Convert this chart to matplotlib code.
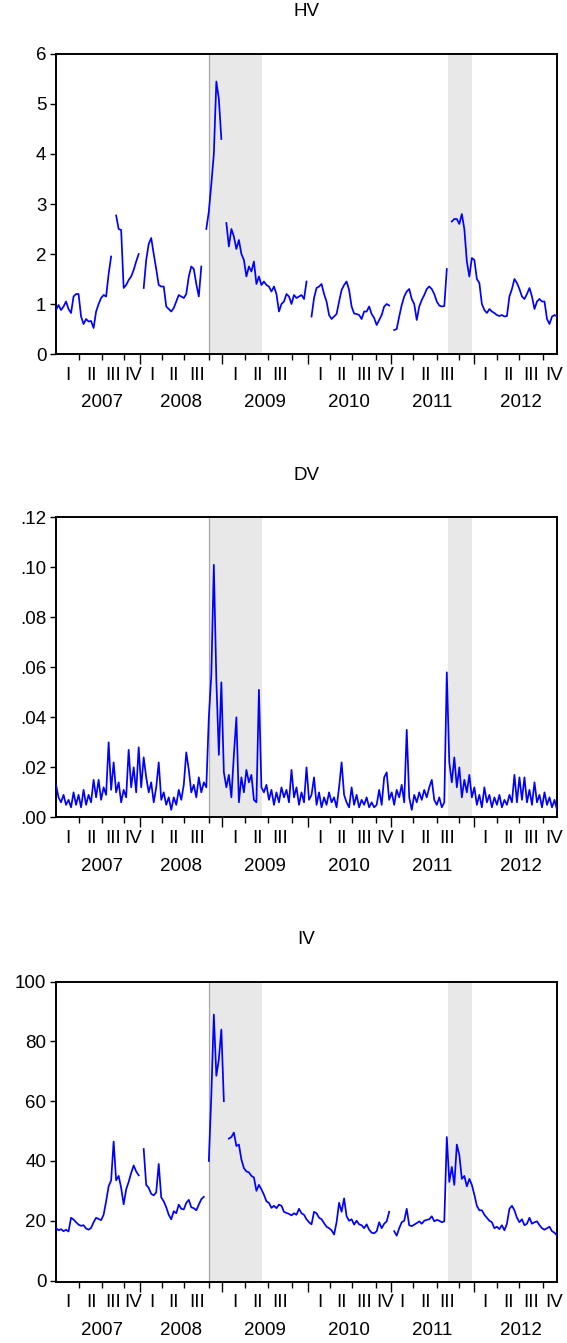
import numpy as np
import matplotlib
matplotlib.use("Agg")
import matplotlib.pyplot as plt

plt.rcParams['font.family'] = ['Liberation Sans', 'DejaVu Sans']

# observation axis: 201 samples, 2007 - 2012 (trading days, irregular workfile)
nan = np.nan

hv = [0.88, 0.98, 0.88, 0.95, 1.05, 0.90, 0.82, 1.15, 1.20, 1.20,
      0.75, 0.60, 0.70, 0.65, 0.66, 0.52, 0.85, 1.00, 1.12, 1.18,
      1.15, 1.60, 1.95, nan, 2.77, 2.50, 2.48, 1.32, 1.38, 1.48,
      1.55, 1.68, 1.85, 2.00, nan, 1.32, 1.88, 2.20, 2.32, 2.00,
      1.70, 1.38, 1.35, 1.35, 0.95, 0.90, 0.85, 0.92, 1.05, 1.18,
      1.15, 1.12, 1.20, 1.55, 1.75, 1.70, 1.40, 1.15, 1.75, nan,
      2.50, 2.85, 3.40, 4.00, 5.45, 5.10, 4.30, nan, 2.62, 2.15,
      2.50, 2.35, 2.10, 2.28, 2.00, 1.88, 1.55, 1.75, 1.65, 1.85,
      1.40, 1.55, 1.38, 1.45, 1.38, 1.35, 1.25, 1.35, 1.20, 0.85,
      1.00, 1.05, 1.20, 1.15, 1.00, 1.18, 1.12, 1.15, 1.18, 1.10,
      1.45, nan, 0.75, 1.12, 1.32, 1.35, 1.40, 1.20, 1.05, 0.78,
      0.70, 0.75, 0.80, 1.05, 1.28, 1.38, 1.45, 1.28, 0.95, 0.81,
      0.80, 0.78, 0.70, 0.85, 0.85, 0.95, 0.80, 0.72, 0.58, 0.68,
      0.78, 0.95, 1.00, 0.97, nan, 0.48, 0.50, 0.75, 0.98, 1.15,
      1.25, 1.30, 1.10, 1.00, 0.68, 0.95, 1.08, 1.18, 1.30, 1.35,
      1.30, 1.20, 1.05, 0.97, 0.95, 0.96, 1.70, nan, 2.65, 2.70,
      2.70, 2.60, 2.80, 2.50, 1.85, 1.55, 1.92, 1.88, 1.50, 1.42,
      1.00, 0.88, 0.82, 0.90, 0.85, 0.82, 0.78, 0.76, 0.78, 0.75,
      0.76, 1.15, 1.30, 1.50, 1.42, 1.30, 1.15, 1.10, 1.20, 1.32,
      1.15, 0.90, 1.05, 1.10, 1.05, 1.05, 0.70, 0.60, 0.75, 0.78,
      0.75]

dv = [0.013, 0.008, 0.006, 0.009, 0.005, 0.007, 0.004, 0.010, 0.005, 0.009,
      0.004, 0.011, 0.005, 0.009, 0.006, 0.015, 0.008, 0.015, 0.007, 0.012,
      0.009, 0.030, 0.011, 0.022, 0.010, 0.014, 0.006, 0.011, 0.008, 0.027,
      0.012, 0.020, 0.010, 0.028, 0.012, 0.024, 0.016, 0.010, 0.014, 0.006,
      0.012, 0.022, 0.007, 0.010, 0.005, 0.008, 0.003, 0.008, 0.005, 0.011,
      0.007, 0.013, 0.026, 0.019, 0.010, 0.013, 0.008, 0.016, 0.010, 0.014,
      0.012, 0.040, 0.057, 0.101, 0.055, 0.025, 0.054, 0.018, 0.012, 0.017,
      0.008, 0.025, 0.040, 0.006, 0.016, 0.010, 0.019, 0.014, 0.017, 0.007,
      0.006, 0.051, 0.012, 0.010, 0.013, 0.007, 0.011, 0.005, 0.010, 0.006,
      0.012, 0.008, 0.011, 0.006, 0.019, 0.008, 0.012, 0.005, 0.010, 0.006,
      0.020, 0.007, 0.009, 0.016, 0.005, 0.010, 0.004, 0.008, 0.005, 0.010,
      0.006, 0.008, 0.004, 0.012, 0.022, 0.009, 0.006, 0.004, 0.012, 0.005,
      0.009, 0.004, 0.007, 0.005, 0.008, 0.004, 0.006, 0.004, 0.005, 0.011,
      0.005, 0.016, 0.018, 0.007, 0.010, 0.005, 0.011, 0.008, 0.013, 0.006,
      0.035, 0.008, 0.003, 0.009, 0.006, 0.010, 0.007, 0.011, 0.008, 0.012,
      0.015, 0.007, 0.005, 0.008, 0.004, 0.006, 0.058, 0.022, 0.014, 0.024,
      0.012, 0.020, 0.008, 0.015, 0.010, 0.017, 0.008, 0.012, 0.005, 0.009,
      0.004, 0.012, 0.006, 0.009, 0.004, 0.008, 0.005, 0.009, 0.004, 0.007,
      0.005, 0.009, 0.006, 0.017, 0.006, 0.016, 0.007, 0.016, 0.006, 0.011,
      0.005, 0.014, 0.006, 0.009, 0.004, 0.010, 0.005, 0.008, 0.004, 0.007,
      0.003]

iv = [17.6, 16.8, 17.2, 16.5, 17.0, 16.4, 21.0, 20.4, 19.5, 18.7,
      18.3, 18.5, 17.4, 17.0, 17.6, 19.5, 21.0, 20.6, 20.2, 22.0,
      26.5, 31.5, 33.5, 46.5, 33.5, 35.0, 31.0, 25.5, 30.5, 33.0,
      36.0, 38.5, 36.5, 35.2, nan, 44.0, 32.0, 31.0, 29.0, 28.5,
      29.5, 39.0, 27.8, 26.5, 24.5, 22.0, 20.5, 23.2, 22.5, 25.4,
      24.0, 23.8, 26.0, 27.0, 24.5, 24.2, 23.5, 25.4, 27.2, 28.0,
      nan, 40.0, 62.0, 89.0, 68.5, 74.0, 84.0, 60.0, nan, 47.5,
      48.0, 49.5, 45.0, 45.5, 40.5, 37.6, 36.5, 36.2, 35.0, 34.5,
      30.0, 32.0, 30.5, 28.7, 26.5, 26.0, 24.3, 25.0, 24.2, 25.4,
      25.0, 23.0, 22.6, 22.3, 21.8, 22.5, 22.0, 24.0, 22.5, 22.0,
      20.5, 19.5, 18.8, 23.0, 22.5, 21.0, 20.5, 19.2, 18.0, 17.5,
      16.8, 15.4, 19.5, 26.0, 23.0, 27.5, 21.5, 20.0, 20.5, 18.7,
      20.0, 18.8, 18.5, 17.5, 18.8, 17.0, 16.0, 15.8, 16.5, 19.5,
      17.5, 19.0, 19.8, 23.0, nan, 16.5, 15.0, 17.5, 19.5, 20.0,
      24.0, 18.5, 18.2, 18.7, 19.2, 19.8, 19.0, 20.0, 20.3, 20.5,
      21.5, 19.8, 20.3, 20.0, 19.5, 19.8, 48.0, 33.0, 38.0, 32.0,
      45.5, 42.0, 34.0, 35.0, 31.5, 34.0, 32.0, 28.7, 25.0, 23.5,
      23.5, 22.0, 21.0, 20.0, 19.5, 17.5, 18.0, 17.2, 18.5, 16.8,
      19.0, 24.0, 25.0, 23.5, 21.0, 19.5, 20.5, 18.5, 19.0, 21.0,
      19.0, 19.5, 19.8, 18.5, 17.5, 17.0, 17.5, 18.0, 16.5, 16.0,
      15.0]

# x axis (in observations)
quarter_bounds = [9.2, 18.3, 27.1, 42.3, 51.1, 60.9, 75.3, 84.7, 94.3,
                  109.3, 118.3, 127.9, 142.5, 151.9, 160.9, 176.0, 184.9, 194.5]
year_bounds = [33.5, 66.3, 100.7, 133.6, 166.9]
quarter_pos = [4.9, 14.0, 22.7, 30.6, 38.2, 46.9, 56.2, 71.4, 80.4, 89.5,
               105.3, 113.9, 123.0, 131.4, 138.2, 147.6, 156.2, 171.1,
               180.6, 189.8, 198.8]
quarter_lbl = ['I', 'II', 'III', 'IV', 'I', 'II', 'III', 'I', 'II', 'III',
               'I', 'II', 'III', 'IV', 'I', 'II', 'III', 'I', 'II', 'III', 'IV']
year_pos = [18.3, 49.8, 83.3, 117.0, 150.2, 185.4]
year_lbl = ['2007', '2008', '2009', '2010', '2011', '2012']

# shaded periods
shade_start = [60.9, 156.3]
shade_end = [82.3, 166.2]

panels = [
    ('HV', hv, (0, 6), [0, 1, 2, 3, 4, 5, 6],
     ['0', '1', '2', '3', '4', '5', '6']),
    ('DV', dv, (0, 0.12), [0, 0.02, 0.04, 0.06, 0.08, 0.10, 0.12],
     ['.00', '.02', '.04', '.06', '.08', '.10', '.12']),
    ('IV', iv, (-0.4, 100), [0, 20, 40, 60, 80, 100],
     ['0', '20', '40', '60', '80', '100']),
]
bottoms = [0.7364, 0.3914, 0.04564]

fig = plt.figure(figsize=(5.67, 13.43), dpi=100)
fs = 13.5

for (name, vals, ylim, yt, ytl), b in zip(panels, bottoms):
    ax = fig.add_axes([0.0988, b, 0.8836, 0.2234])
    y = np.array(vals, dtype=float)
    x = np.arange(len(y))
    for s, e in zip(shade_start, shade_end):
        ax.axvspan(s, e, color='#e8e8e8', lw=0, zorder=0)
    ax.axvline(shade_start[0], color='#a8a8a8', lw=0.9, zorder=1)
    ax.plot(x, y, color='#0000ff', lw=1.25, zorder=3)
    ax.set_xlim(0, len(y) - 1)
    ax.set_ylim(*ylim)
    ax.set_yticks(yt)
    ax.set_yticklabels(ytl, fontsize=fs)
    ax.tick_params(axis='y', direction='out', length=4, width=1, pad=3)

    # quarter labels, no tick marks
    ax.set_xticks(quarter_pos)
    ax.set_xticklabels(quarter_lbl, fontsize=fs)
    ax.tick_params(axis='x', which='major', length=0, pad=9)
    # quarter boundary marks
    ax.set_xticks(quarter_bounds, minor=True)
    ax.tick_params(axis='x', which='minor', direction='out', length=4, width=1)
    # year boundary marks
    sec = ax.secondary_xaxis('bottom')
    sec.set_xticks(year_bounds)
    sec.set_xticklabels([''] * len(year_bounds))
    sec.tick_params(axis='x', direction='out', length=7, width=1)
    sec.spines['bottom'].set_visible(False)
    # year labels
    sec2 = ax.secondary_xaxis('bottom')
    sec2.set_xticks(year_pos)
    sec2.set_xticklabels(year_lbl, fontsize=fs)
    sec2.tick_params(axis='x', length=0, pad=29)
    sec2.spines['bottom'].set_visible(False)

    for sp in ax.spines.values():
        sp.set_linewidth(1.4)
        sp.set_color('black')

    ax.text(0.5, 1.14, name, transform=ax.transAxes, ha='center', va='center',
            fontsize=fs)

fig.savefig('out.png', dpi=100)
